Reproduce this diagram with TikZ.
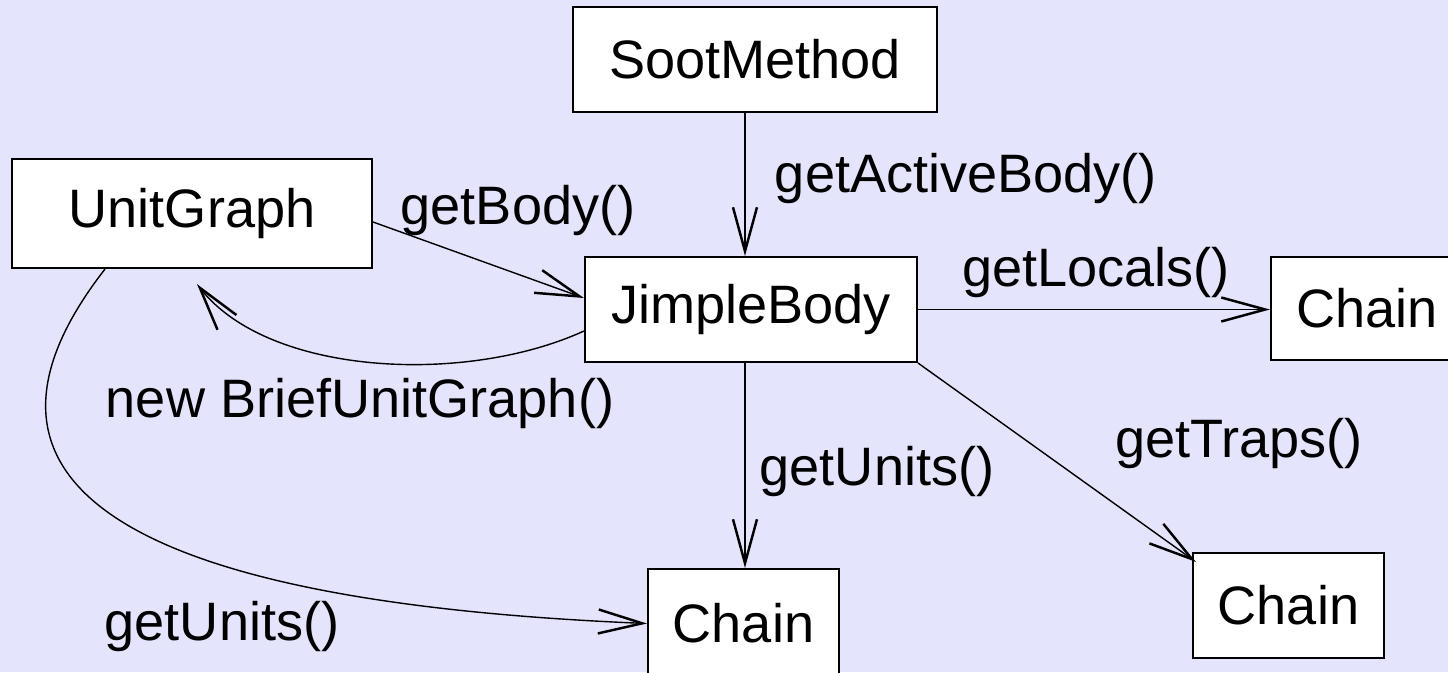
\documentclass[tikz,border=0pt]{standalone}
\usepackage{fontspec}
\setmainfont{Liberation Sans}
\usepackage{tikz}
\usetikzlibrary{arrows.meta}
\definecolor{bgblue}{RGB}{228,228,252}

\begin{document}
\begin{tikzpicture}[every node/.style={font=\fontsize{15.4pt}{18pt}\selectfont},
    box/.style={draw,fill=white,line width=0.6pt,inner sep=0pt},
    arr/.style={line width=0.4pt,-{Straight Barb[length=4.4mm,width=2.4mm,line width=0.7pt]}}]

    \useasboundingbox[fill=bgblue] (0,0) rectangle (14.48,-6.72);

    \node[box,minimum width=3.64cm,minimum height=1.05cm] (sm) at (7.55,-0.595)   {SootMethod};
    \node[box,minimum width=3.60cm,minimum height=1.09cm] (ug) at (1.92,-2.135)   {UnitGraph};
    \node[box,minimum width=3.32cm,minimum height=1.05cm] (jb) at (7.51,-3.095)   {JimpleBody};
    \node[box,minimum width=1.92cm,minimum height=1.03cm] (c1) at (13.67,-3.085)  {Chain};
    \node[box,minimum width=1.91cm,minimum height=1.09cm] (c2) at (7.435,-6.235)  {Chain};
    \node[box,minimum width=1.91cm,minimum height=1.05cm] (c3) at (12.885,-6.055) {Chain};

    \node (l1) at (9.66,-1.78)  {getActiveBody()};
    \node (l2) at (5.18,-2.10)  {getBody()};
    \node (l3) at (10.96,-2.72) {getLocals()};
    \node (l4) at (3.60,-4.03)  {new BriefUnitGraph()};
    \node (l5) at (12.39,-4.43) {getTraps()};
    \node (l6) at (8.77,-4.71)  {getUnits()};
    \node (l7) at (2.22,-6.26)  {getUnits()};

    \draw[arr] ([xshift=-0.1cm]sm.south) -- ([xshift=-0.06cm]jb.north);
    \draw[arr] ([yshift=-0.085cm]ug.east) -- ([yshift=0.115cm]jb.west);
    \draw[arr] ([yshift=-0.215cm]jb.west) .. controls +(-1.18,-0.54) and +(0.72,-0.92) .. ([xshift=1.86cm,yshift=-0.15cm]ug.south west);
    \draw[arr] (jb.east) -- (jb.east -| c1.west);
    \draw[arr] ([xshift=-0.06cm]jb.south) -- ([xshift=-0.06cm]jb.south |- c2.north);
    \draw[arr] (jb.south east) -- ([shift={(0.04,-0.1)}]c3.north west);
    \draw[arr] ([xshift=-0.87cm]ug.south) .. controls +(-1.65,-2.12) and +(-5.28,0.22) .. (c2.west);
  \end{tikzpicture}
\end{document}
